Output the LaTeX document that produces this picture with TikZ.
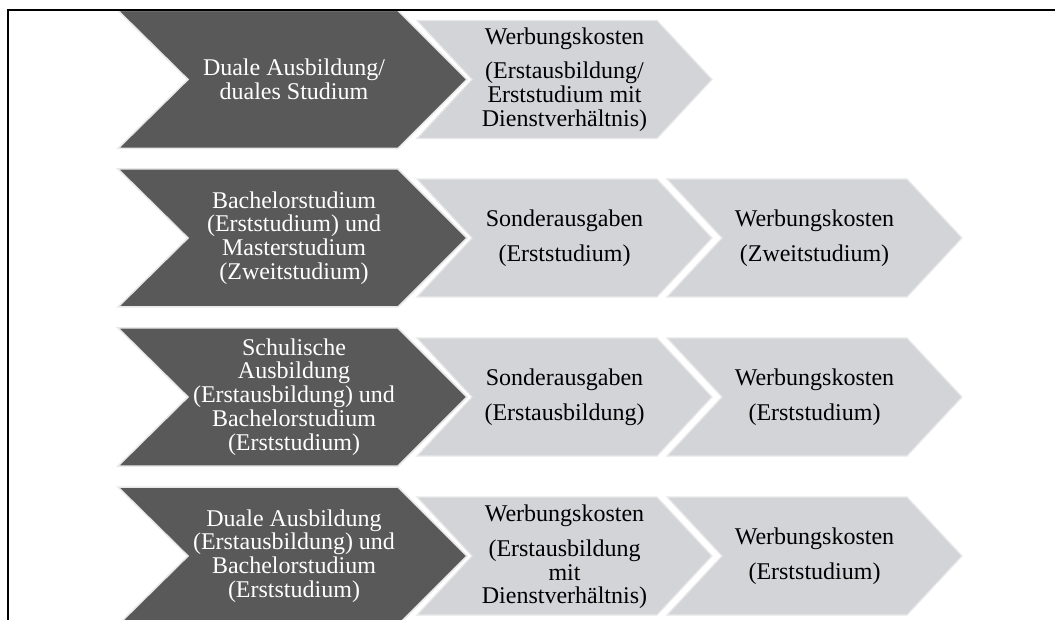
\documentclass[tikz,border=0pt]{standalone}
\usepackage{fontspec}
\setmainfont{Liberation Serif}
\definecolor{darkfill}{RGB}{89,89,89}
\definecolor{lightfill}{RGB}{211,212,216}
\definecolor{edgegray}{RGB}{232,232,232}

\begin{document}
\begin{tikzpicture}[x=1pt, y=-1pt,
    darkchev/.style={fill=darkfill, draw=edgegray, line width=1.5pt},
    lightchev/.style={fill=lightfill, draw=edgegray, line width=1.2pt},
    darktext/.style={text=white, align=center, inner sep=0pt, font=\fontsize{24}{23.8}\selectfont},
    lighttext/.style={text=black, align=center, inner sep=0pt, font=\fontsize{24}{23.8}\selectfont}]
    \useasboundingbox (0,0) rectangle (1055,620);

    \foreach \c in {79.5,238,397,556}
      \path[darkchev] (118,\c-69) -- ++(280,0) -- ++(69,69) -- ++(-69,69) -- ++(-280,0) -- ++(70,-69) -- cycle;
    \foreach \l/\c in {417/79.5, 417/238, 667/238, 417/397, 667/397, 417/556, 667/556}
      \path[lightchev] (\l,\c-59) -- ++(240,0) -- ++(55,59) -- ++(-55,59) -- ++(-240,0) -- ++(55,-59) -- cycle;

    \node[darktext] (dual) at (294,79.5) {Duale Ausbildung/\\duales Studium};
    \node[lighttext] (dualwk) at (564.5,79.5) {Werbungskosten\\[11pt](Erstausbildung/\\Erststudium mit\\Dienstverhältnis)};

    \node[darktext] (bach) at (294,238) {Bachelorstudium\\(Erststudium) und\\Masterstudium\\(Zweitstudium)};
    \node[lighttext] (bachsa) at (564.5,238) {Sonderausgaben\\[11pt](Erststudium)};
    \node[lighttext] (bachwk) at (814.5,238) {Werbungskosten\\[11pt](Zweitstudium)};

    \node[darktext] (schul) at (294,397) {Schulische\\Ausbildung\\(Erstausbildung) und\\Bachelorstudium\\(Erststudium)};
    \node[lighttext] (schulsa) at (564.5,397) {Sonderausgaben\\[11pt](Erstausbildung)};
    \node[lighttext] (schulwk) at (814.5,397) {Werbungskosten\\[11pt](Erststudium)};

    \node[darktext] (dualba) at (294,556) {Duale Ausbildung\\(Erstausbildung) und\\Bachelorstudium\\(Erststudium)};
    \node[lighttext] (dualbawk) at (564.5,557) {Werbungskosten\\[11pt](Erstausbildung\\mit\\Dienstverhältnis)};
    \node[lighttext] (dualbaws) at (814.5,556) {Werbungskosten\\[11pt](Erststudium)};

    \draw[line width=1.6pt] (8,620) -- (8,10) -- (1055,10);
\end{tikzpicture}
\end{document}
